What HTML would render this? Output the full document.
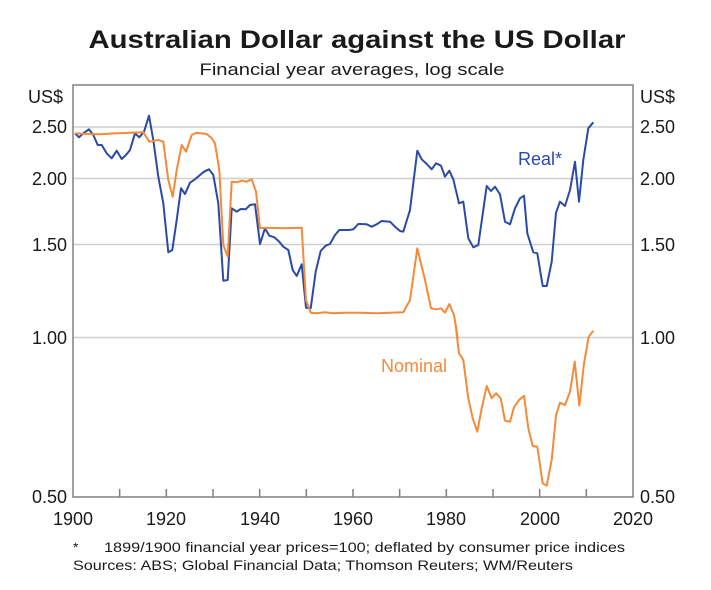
<!DOCTYPE html>
<html><head><meta charset="utf-8"><style>
body{margin:0;background:#fff}
svg{display:block;font-family:"Liberation Sans",Arial,sans-serif}
</style></head><body>
<svg id="s" width="711" height="590" xmlns="http://www.w3.org/2000/svg">
<text x="357" y="48" text-anchor="middle" font-size="25" font-weight="bold" fill="#1a1a1a" textLength="537" lengthAdjust="spacingAndGlyphs">Australian Dollar against the US Dollar</text>
<text x="352" y="75" text-anchor="middle" font-size="17" fill="#1a1a1a" textLength="305" lengthAdjust="spacingAndGlyphs">Financial year averages, log scale</text>
<g stroke="#cfcfcf" stroke-width="1.5">
<line x1="73" x2="633" y1="127" y2="127"/><line x1="73" x2="633" y1="178.5" y2="178.5"/>
<line x1="73" x2="633" y1="244.5" y2="244.5"/><line x1="73" x2="633" y1="337.5" y2="337.5"/>
</g>
<rect x="73" y="85" width="560" height="412" fill="none" stroke="#808080" stroke-width="1.5"/>
<g id="ticks" stroke="#808080" stroke-width="1.5"></g>
<g font-size="18" fill="#1a1a1a">
<text x="28" y="103">US$</text><text x="640" y="103">US$</text>
<text x="67" y="133" text-anchor="end">2.50</text><text x="640" y="133">2.50</text>
<text x="67" y="185" text-anchor="end">2.00</text><text x="640" y="185">2.00</text>
<text x="67" y="251" text-anchor="end">1.50</text><text x="640" y="251">1.50</text>
<text x="67" y="344" text-anchor="end">1.00</text><text x="640" y="344">1.00</text>
<text x="67" y="503" text-anchor="end">0.50</text><text x="640" y="503">0.50</text>
</g>
<g font-size="18" fill="#1a1a1a" text-anchor="middle">
<text x="73" y="525">1900</text><text x="166" y="525">1920</text><text x="260" y="525">1940</text>
<text x="353" y="525">1960</text><text x="446" y="525">1980</text><text x="540" y="525">2000</text><text x="633" y="525">2020</text>
</g>
<polyline id="real" fill="none" stroke="#2a4aa8" stroke-width="2" stroke-linejoin="round"/>
<polyline id="nom" fill="none" stroke="#f58a3a" stroke-width="2" stroke-linejoin="round"/>
<text x="518" y="165" font-size="18" fill="#2a4aa8">Real*</text>
<text x="381" y="372" font-size="18" fill="#f58a3a">Nominal</text>
<text x="73" y="552" font-size="14" fill="#1a1a1a">*</text>
<text x="104" y="552" font-size="14" fill="#1a1a1a" textLength="521" lengthAdjust="spacingAndGlyphs">1899/1900 financial year prices=100; deflated by consumer price indices</text>
<text x="73" y="570" font-size="14" fill="#1a1a1a" textLength="500" lengthAdjust="spacingAndGlyphs">Sources: ABS; Global Financial Data; Thomson Reuters; WM/Reuters</text>
</svg>
<script>
var t=document.getElementById('ticks'),h='';
for(var i=1;i<12;i++){var x=73+i*560/12;h+='<line x1="'+x+'" x2="'+x+'" y1="489" y2="497"/>';}
t.innerHTML=h;
function z1(a){return a.map(p=>[p[0]/3,p[1]/3+80]);}
function z2(a){return a.map(p=>[p[0]/3+360,p[1]/3+80]);}
function z3(a){return a.map(p=>[p[0]/3+440,p[1]/3+320]);}
function s(a){return a.map(p=>p[0].toFixed(1)+','+p[1].toFixed(1)).join(' ');}
var r=z1([[225,160],[237,172],[250,160],[267,148],[280,165],[293,195],[305,195],[320,220],[335,235],[350,212],[365,237],[378,225],[390,210],[405,160],[418,172],[432,155],[447,107],[460,180],[475,290],[490,370],[505,517],[517,510],[530,420],[543,325],[555,342],[570,308],[585,298],[600,285],[612,275],[627,268],[640,285],[655,370],[670,602],[683,600],[695,385],[710,395],[722,387],[737,388],[750,375],[765,373],[780,492],[795,445],[808,467],[823,472],[838,485],[850,500],[865,510],[878,570],[890,588],[905,553],[918,683],[932,685],[947,575],[962,513],[977,497],[990,492],[1005,465],[1018,450],[1032,450],[1047,450],[1060,448],[1075,432]]).concat(z2([[0,432],[20,433],[35,440],[50,433],[65,423],[90,425],[105,440],[120,453],[130,455],[150,390],[172,212],[185,238],[200,252],[215,268],[228,250],[243,257],[255,290],[268,272],[280,298],[297,370],[310,365],[325,475],[340,502],[355,495],[380,318],[393,333],[405,320],[420,343],[435,425],[450,433],[465,385],[480,355],[492,347],[502,460],[520,517],[532,520],[548,618],[560,618],[575,545],[588,398],[600,365],[615,378],[630,330],[645,245],[657,365],[670,240],[685,145],[700,127]]));
var n=z1([[225,160],[260,162],[300,163],[350,160],[430,157],[448,185],[475,180],[490,185],[505,300],[518,350],[530,270],[545,195],[558,215],[575,165],[590,158],[620,162],[635,175],[645,190],[658,270],[670,495],[683,530],[695,305],[710,307],[725,302],[740,305],[755,298],[768,335],[780,445],[800,443],[850,445],[905,443],[918,660],[932,698],[950,700],[975,697],[1000,700],[1030,698],[1080,698]]).concat(z2([[0,698],[50,700],[90,698],[130,697],[150,660],[172,505],[195,600],[213,685],[230,688],[243,685],[255,698],[268,672],[282,705],[293,775]])).concat(z3([[45,0],[57,100],[70,120],[85,235],[98,295],[112,335],[125,265],[140,198],[155,235],[168,220],[182,235],[195,302],[210,305],[222,262],[237,240],[252,227],[265,325],[278,378],[292,380],[308,490],[320,497],[335,420],[348,285],[360,248],[375,255],[390,215],[404,125],[418,257],[432,130],[446,50],[460,32]]));
document.getElementById('real').setAttribute('points',s(r));
document.getElementById('nom').setAttribute('points',s(n));
</script>
</body></html>
